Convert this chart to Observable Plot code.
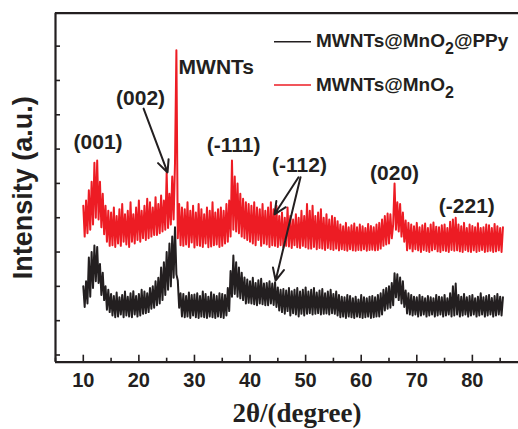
<!DOCTYPE html>
<html><head><meta charset="utf-8">
<script src="https://cdn.jsdelivr.net/npm/d3@7"></script>
<script src="https://cdn.jsdelivr.net/npm/@observablehq/plot@0.6"></script>
<style>body{margin:0;background:#fff}</style>
</head><body><div id="chart"></div>
<script>
// ---- data ----
const seriesNames = ["MWNTs@MnO2@PPy", "MWNTs@MnO2"];
const thetaStart = 10, thetaStep = 0.25;   // sampling grid of 2θ (degree)
const redValues = [
435,345,450,355, 480,365,505,380, 560,400,567,395, 505,372,470,352, 435,330,420,318,
415,320,430,315, 405,325,425,318, 440,330,410,322, 420,315,445,330, 410,325,430,335,
450,330,420,340, 435,335,455,340, 445,345,430,350, 460,350,440,355, 465,360,450,365,
532,370,470,380, 520,395,560,888, 340,440,320,430, 318,425,322,445, 315,420,328,435,
313,415,320,440, 318,425,315,410, 325,430,314,420, 316,445,320,415, 322,425,315,430,
318,420,325,440, 330,450,345,567, 365,520,360,500, 355,470,345,455, 340,445,335,440,
330,435,325,445, 320,430,335,425, 318,440,325,420, 322,430,315,445, 320,425,318,435,
315,405,320,415, 313,400,318,430, 316,405,312,395, 320,410,314,400, 312,420,318,405,
314,440,310,420, 310,435,315,405, 308,415,312,425, 310,400,306,410, 312,395,308,405,
306,400,310,390, 305,380,308,375, 306,385,304,372, 308,378,305,383, 304,372,306,380,
305,375,308,370, 304,382,306,376, 307,372,305,380, 306,385,310,395, 318,405,322,412,
325,410,340,380, 500,365,445,360, 440,345,415,330, 392,305,385,310, 380,302,375,308,
385,305,372,300, 378,306,383,303, 370,300,380,305, 386,308,374,302, 372,300,378,305,
380,303,370,300, 388,306,395,304, 400,305,380,302, 375,300,385,306, 370,302,380,300,
376,305,372,300, 384,303,370,306, 372,300,380,302, 378,304,370,300, 382,302,375,305,
370,300,372];
const blackValues = [
200,140,215,150, 284,170,300,195, 319,215,315,210, 265,175,240,160, 200,132,190,125,
178,115,172,110, 182,112,168,118, 175,110,185,115, 170,112,180,110, 186,118,172,112,
178,115,190,120, 185,122,180,125, 195,135,200,138, 215,145,225,150, 255,160,270,175,
300,190,325,200, 345,225,372,235, 217,138,180,112, 178,110,172,112, 182,108,175,115,
176,110,180,108, 172,112,185,110, 178,108,170,112, 183,110,176,108, 172,112,180,110,
178,108,175,115, 195,128,245,170, 290,178,270,170, 255,165,240,160, 226,150,220,152,
215,150,225,148, 210,145,218,150, 222,148,208,145, 210,145,215,150, 208,146,212,140,
197,130,190,125, 192,120,188,128, 195,115,186,122, 190,118,195,112, 185,120,190,115,
197,120,185,122, 190,118,195,120, 182,122,188,118, 192,120,180,121, 185,118,190,122,
178,120,185,115, 175,110,170,112, 168,108,175,112, 172,110,165,108, 170,112,162,110,
175,108,168,110, 165,112,170,108, 172,110,168,112, 175,112,180,118, 190,130,195,135,
200,138,210,145, 238,168,235,160, 226,150,215,140, 188,121,180,118, 175,115,170,118,
168,112,175,115, 170,118,165,112, 172,115,168,118, 165,112,175,115, 170,118,168,112,
175,115,165,118, 180,112,200,115, 208,118,175,112, 170,115,178,118, 168,112,172,115,
175,118,165,112, 170,115,180,118, 168,112,172,115, 175,118,166,112, 172,115,178,118,
170,115,168];
const xDomain = [5, 88.3];
const yDomain = [-21, 996];
const xTicks = [10, 20, 30, 40, 50, 60, 70, 80];
const xMinorTicks = [5, 15, 25, 35, 45, 55, 65, 75, 85];
const yTicks = [0, 100, 200, 300, 400, 500, 600, 700, 800, 900];
const annLabels = ["(001)", "(002)", "MWNTs", "(-111)", "(-112)", "(020)", "(-221)"];
const annX = [12.66, 20.3, 27.15, 37.05, 48.9, 66.0, 79.0];
const annY = [619, 749, 837, 611, 552, 530, 433];
const annAnchor = ["middle", "middle", "start", "middle", "middle", "middle", "middle"];
const arrowX1 = [20.85, 48.72, 49.08];
const arrowY1 = [718, 518, 518];
const arrowX2 = [25.16, 44.4, 44.6];
const arrowY2 = [532, 410, 217];
const legendParts = [["MWNTs@MnO", "2", "@PPy"], ["MWNTs@MnO", "2", ""]];
const colors = ["#231f20", "#ed1c24"];
const xLabel = "2θ/(degree)";
const yLabel = "Intensity (a.u.)";

// ---- build ----
const toRows = vals => vals.map((v, i) => ({x: thetaStart + i * thetaStep, y: v}));
const black = toRows(blackValues), red = toRows(redValues);
const W = 518, H = 429, mL = 55, mT = 12.7, mB = 67.3, mR = 0;
const plotH = H - mT - mB, plotW = W - mL - mR;
const ann = annLabels.map((t, i) => ({t, x: annX[i], y: annY[i], a: annAnchor[i]}));
const arrows = arrowX1.map((_, i) => ({x1: arrowX1[i], y1: arrowY1[i], x2: arrowX2[i], y2: arrowY2[i]}));
const ink = "#231f20";
const sans = "'Liberation Sans', Arial, Helvetica, sans-serif";

const svg = Plot.plot({
  width: W, height: H,
  marginLeft: mL, marginRight: mR, marginTop: mT, marginBottom: mB,
  x: {domain: xDomain},
  y: {domain: yDomain, axis: null},
  style: {fontFamily: sans, fontWeight: "bold", background: "#fff", color: ink},
  marks: [
    Plot.lineY(black, {x: "x", y: "y", stroke: colors[0], strokeWidth: 2}),
    Plot.lineY(red, {x: "x", y: "y", stroke: colors[1], strokeWidth: 2}),
    Plot.ruleX(xTicks, {insetTop: plotH - 7, stroke: ink, strokeWidth: 1.6}),
    Plot.ruleX(xMinorTicks, {insetTop: plotH - 4, stroke: ink, strokeWidth: 1.6}),
    Plot.ruleY(yTicks, {insetRight: plotW - 5, stroke: ink, strokeWidth: 1.6}),
    Plot.ruleX([xDomain[0]], {stroke: ink, strokeWidth: 2.2}),
    Plot.ruleY(yDomain, {stroke: ink, strokeWidth: 2.2}),
    Plot.axisX(xTicks, {tickSize: 0, tickPadding: 11, fontSize: 20, fontWeight: "bold", label: null, fill: ink}),
    Plot.arrow(arrows, {x1: "x1", y1: "y1", x2: "x2", y2: "y2", stroke: ink, strokeWidth: 2, headLength: 10, headAngle: 50}),
    Plot.text(ann.filter(d => d.a === "middle"), {x: "x", y: "y", text: "t", fontSize: 21, fontWeight: "bold", fill: ink}),
    Plot.text(ann.filter(d => d.a === "start"), {x: "x", y: "y", text: "t", textAnchor: "start", fontSize: 21, fontWeight: "bold", fill: ink}),
    Plot.text([yLabel], {text: d => d, frameAnchor: "left", textAnchor: "middle", lineAnchor: "middle", rotate: -90, dx: -32, fontSize: 27, fontWeight: "bold", fill: ink}),
    Plot.text([xLabel], {text: d => d, frameAnchor: "bottom", textAnchor: "middle", lineAnchor: "bottom", dx: 10, dy: 60, fontSize: 27, fontWeight: "bold",
      fontFamily: "'Liberation Serif', 'Times New Roman', serif", fill: ink})
  ]
});

// legend (inside the frame, top right)
const lg = d3.select(svg).append("g").attr("font-family", sans).attr("font-weight", "bold").attr("fill", ink).attr("text-anchor", "start");
const lineY = [41.7, 85], baseY = [46.5, 90.7];
legendParts.forEach((parts, i) => {
  lg.append("line").attr("x1", 274).attr("x2", 311).attr("y1", lineY[i]).attr("y2", lineY[i])
    .attr("stroke", colors[i]).attr("stroke-width", 1.5);
  const t = lg.append("text").attr("x", 316).attr("y", baseY[i]).attr("font-size", 19).attr("text-anchor", "start");
  t.append("tspan").text(parts[0]);
  t.append("tspan").attr("font-size", 16).attr("dy", 7.5).text(parts[1]);
  if (parts[2]) t.append("tspan").attr("dy", -7.5).text(parts[2]);
});

document.getElementById("chart").appendChild(svg);
</script>
</body></html>
